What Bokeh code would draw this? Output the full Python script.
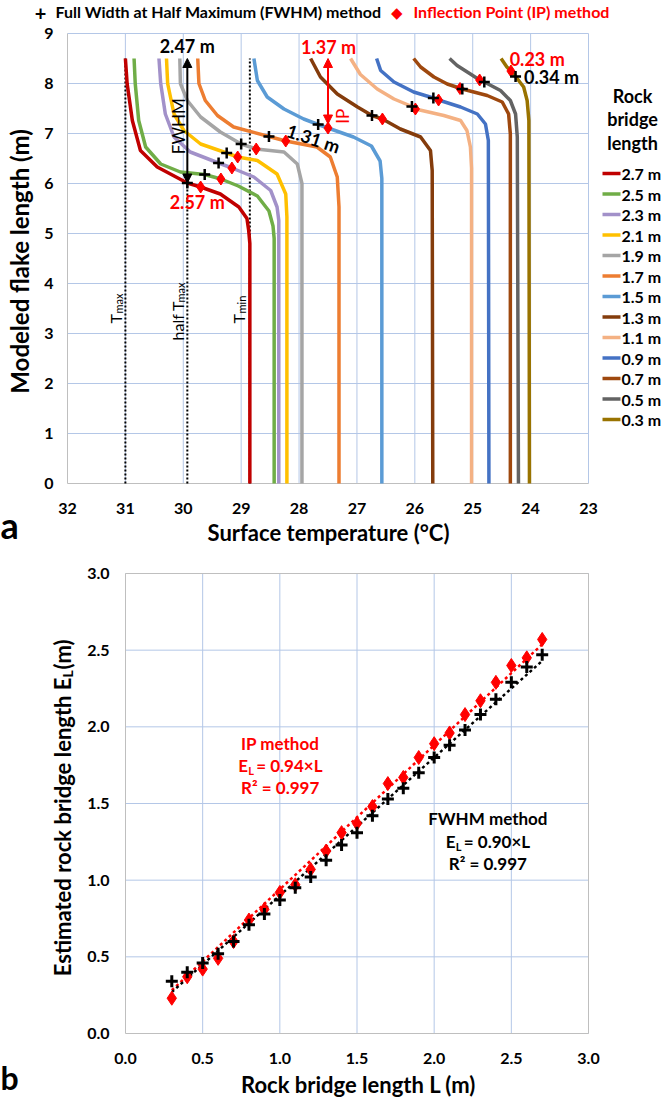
import math
from bokeh.plotting import figure
from bokeh.models import Range1d, Label, Arrow, NormalHead
from bokeh.layouts import column
from bokeh.embed import file_html
from bokeh.resources import INLINE

FONT = "Lato"
RED = "#FF0000"
GRID = "#B4C7E7"
AXIS = "#BFBFBF"

# ---------------- panel a data ----------------
lengths = ["2.7 m", "2.5 m", "2.3 m", "2.1 m", "1.9 m", "1.7 m", "1.5 m",
           "1.3 m", "1.1 m", "0.9 m", "0.7 m", "0.5 m", "0.3 m"]
colors = ["#C00000", "#70AD47", "#A291C9", "#FFC000", "#A5A5A5", "#ED7D31", "#5B9BD5",
          "#843C0C", "#F4B183", "#4472C4", "#9E480E", "#636363", "#997300"]

curve_T = [
    [31.00, 30.97, 30.88, 30.74, 30.45, 29.93, 29.70, 29.36, 29.04, 28.90, 28.87, 28.85, 28.85],
    [30.85, 30.83, 30.77, 30.65, 30.39, 30.05, 29.63, 29.35, 29.05, 28.72, 28.52, 28.45, 28.43, 28.43],
    [30.42, 30.39, 30.31, 30.16, 29.88, 29.39, 29.16, 28.78, 28.49, 28.38, 28.35, 28.35],
    [30.29, 30.27, 30.16, 29.99, 29.70, 29.25, 29.06, 28.72, 28.38, 28.23, 28.21, 28.21],
    [30.06, 30.05, 29.93, 29.70, 29.36, 29.00, 28.74, 28.26, 28.03, 27.95, 27.95, 27.95],
    [29.75, 29.73, 29.62, 29.41, 29.13, 28.52, 28.23, 27.69, 27.46, 27.34, 27.31, 27.31],
    [28.78, 28.72, 28.55, 28.26, 27.92, 27.67, 27.50, 27.06, 26.75, 26.60, 26.57, 26.57],
    [27.80, 27.63, 27.34, 26.99, 26.74, 26.56, 26.25, 25.90, 25.73, 25.70, 25.69],
    [27.11, 26.94, 26.65, 26.36, 26.05, 25.99, 25.50, 25.21, 25.10, 25.04, 25.02, 25.02],
    [26.66, 26.59, 26.36, 26.02, 25.68, 25.59, 25.21, 24.92, 24.78, 24.73, 24.72],
    [26.02, 25.90, 25.67, 25.44, 25.18, 24.75, 24.49, 24.38, 24.35, 24.35],
    [25.40, 25.27, 25.04, 24.88, 24.80, 24.52, 24.35, 24.26, 24.23, 24.21],
    [24.51, 24.41, 24.34, 24.26, 24.12, 24.06, 24.03, 24.02],
]
curve_y = [
    [8.50, 8.00, 7.26, 6.66, 6.33, 6.01, 5.93, 5.79, 5.53, 5.30, 5.06, 4.80, 0.0],
    [8.50, 8.00, 7.26, 6.73, 6.39, 6.23, 6.18, 6.09, 5.95, 5.75, 5.45, 5.15, 4.90, 0.0],
    [8.50, 8.00, 7.39, 6.93, 6.63, 6.41, 6.31, 6.13, 5.86, 5.53, 5.26, 0.0],
    [8.50, 8.00, 7.39, 7.06, 6.79, 6.61, 6.53, 6.46, 6.19, 5.79, 5.33, 0.0],
    [8.50, 8.00, 7.66, 7.33, 7.03, 6.79, 6.69, 6.63, 6.39, 6.00, 5.53, 0.0],
    [8.50, 8.00, 7.66, 7.36, 7.13, 6.94, 6.85, 6.73, 6.53, 6.13, 5.53, 0.0],
    [8.50, 8.06, 7.73, 7.49, 7.29, 7.18, 7.11, 6.93, 6.75, 6.45, 6.10, 0.0],
    [8.50, 8.13, 7.79, 7.53, 7.36, 7.29, 7.09, 6.93, 6.66, 6.26, 0.0],
    [8.50, 8.18, 7.89, 7.69, 7.54, 7.49, 7.36, 7.26, 7.06, 6.73, 6.30, 0.0],
    [8.50, 8.26, 8.03, 7.83, 7.71, 7.67, 7.53, 7.39, 7.19, 6.86, 0.0],
    [8.50, 8.33, 8.13, 7.99, 7.89, 7.76, 7.63, 7.39, 6.99, 0.0],
    [8.50, 8.36, 8.19, 8.07, 8.03, 7.86, 7.66, 7.39, 6.93, 0.0],
    [8.50, 8.33, 8.25, 8.14, 7.93, 7.66, 7.26, 0.0],
]

fwhm_T = [29.93, 29.63, 29.39, 29.25, 29.00, 28.52, 27.67, 26.74, 26.05, 25.68, 25.18, 24.80, 24.26]
fwhm_y = [6.01, 6.18, 6.41, 6.61, 6.79, 6.94, 7.18, 7.36, 7.54, 7.71, 7.89, 8.03, 8.14]
ip_T = [29.70, 29.35, 29.16, 29.06, 28.74, 28.23, 27.50, 26.56, 25.99, 25.59, 25.22, 24.88, 24.34]
ip_y = [5.93, 6.09, 6.31, 6.53, 6.69, 6.85, 7.11, 7.29, 7.49, 7.67, 7.90, 8.07, 8.25]

t_max, t_half, t_min = 31.00, 29.93, 28.85
top_y = 8.5
temp_ticks = [32, 31, 30, 29, 28, 27, 26, 25, 24, 23]
flake_ticks = [0, 1, 2, 3, 4, 5, 6, 7, 8, 9]

# ---------------- panel b data ----------------
L_vals = [0.3, 0.4, 0.5, 0.6, 0.7, 0.8, 0.9, 1.0, 1.1, 1.2, 1.3, 1.4, 1.5,
          1.6, 1.7, 1.8, 1.9, 2.0, 2.1, 2.2, 2.3, 2.4, 2.5, 2.6, 2.7]
E_fwhm = [0.34, 0.40, 0.46, 0.52, 0.60, 0.71, 0.78, 0.87, 0.95, 1.02, 1.13, 1.23, 1.31,
          1.42, 1.53, 1.60, 1.70, 1.80, 1.88, 1.98, 2.08, 2.18, 2.29, 2.39, 2.47]
E_ip = [0.23, 0.37, 0.42, 0.49, 0.60, 0.74, 0.81, 0.92, 0.97, 1.07, 1.19, 1.31, 1.37,
        1.48, 1.63, 1.67, 1.80, 1.89, 1.96, 2.08, 2.17, 2.29, 2.40, 2.45, 2.57]
slope_ip, slope_fwhm = 0.94, 0.90
b_ticks = [0.0, 0.5, 1.0, 1.5, 2.0, 2.5, 3.0]

# ---------------- geometry (page pixels -> data) ----------------
PXT = 521 / 9.0      # px per degC in panel a
PXL = 463 / 3.0      # px per m (x) in panel b
PYE = 460 / 3.0      # px per m (y) in panel b


def A(xp, yp):
    return 32 - (xp - 67) / PXT, (483 - yp) / 50.0


def B(xp, yp):
    return (xp - 125) / PXL, (1033 - yp) / PYE


def label(p, x, y, text, size="16px", color="#000000", style="bold", align="center",
          baseline="middle", angle=0.0, xo=0, yo=0):
    p.add_layout(Label(x=x, y=y, text=text, text_font=FONT, text_font_size=size,
                       text_color=color, text_font_style=style, text_align=align,
                       text_baseline=baseline, angle=angle, x_offset=xo, y_offset=yo))


def la(xp, yp, text, **kw):
    x, y = A(xp, yp)
    label(pa, x, y, text, **kw)


def lb(xp, yp, text, **kw):
    x, y = B(xp, yp)
    label(pb, x, y, text, **kw)


def make_fig(h, xr, yr):
    p = figure(width=663, height=h, output_backend="svg", toolbar_location=None,
               x_range=Range1d(*xr), y_range=Range1d(*yr),
               x_axis_type=None, y_axis_type=None, min_border=0)
    p.outline_line_color = None
    p.grid.visible = False
    p.background_fill_color = "white"
    p.border_fill_color = "white"
    return p


# ======================= PANEL A =======================
pa = make_fig(550, (A(0, 0)[0], A(663, 0)[0]), (A(0, 550)[1], A(0, 0)[1]))
t_lo, t_hi = temp_ticks[-1], temp_ticks[0]
f_lo, f_hi = flake_ticks[0], flake_ticks[-1]

# grid
pa.segment(x0=temp_ticks[1:], x1=temp_ticks[1:], y0=[f_lo] * 9, y1=[f_hi] * 9,
           line_color=GRID, line_width=1)
pa.segment(x0=[t_hi] * 9, x1=[t_lo] * 9, y0=flake_ticks[1:], y1=flake_ticks[1:],
           line_color=GRID, line_width=1)
# axis lines
pa.segment(x0=[t_hi], x1=[t_hi], y0=[f_lo], y1=[f_hi], line_color=AXIS, line_width=1)
pa.segment(x0=[t_hi], x1=[t_lo], y0=[f_lo], y1=[f_lo], line_color=AXIS, line_width=1)
# tick labels
for t in temp_ticks:
    label(pa, t, A(0, 507.5)[1], str(t), size="16px")
for v in flake_ticks:
    label(pa, A(53, 0)[0], v, str(v), size="16px", align="right")

# reference dotted lines
pa.line([t_max, t_max], [0, top_y], line_color="black", line_width=2, line_dash="2 2")
pa.line([t_half, t_half], [0, fwhm_y[0]], line_color="black", line_width=2, line_dash="2 2")
pa.line([t_min, t_min], [0, top_y], line_color="black", line_width=2, line_dash="2 2")

for T, y, c in zip(curve_T, curve_y, colors):
    pa.line(T, y, line_color=c, line_width=3.5)

# arrows
pa.add_layout(Arrow(x_start=fwhm_T[0], y_start=fwhm_y[0], x_end=fwhm_T[0], y_end=top_y,
                    line_color="black", line_width=2,
                    start=NormalHead(size=9, fill_color="black", line_color="black"),
                    end=NormalHead(size=9, fill_color="black", line_color="black")))
pa.add_layout(Arrow(x_start=ip_T[6], y_start=ip_y[6] + 0.08, x_end=ip_T[6], y_end=top_y,
                    line_color=RED, line_width=2,
                    start=NormalHead(size=9, fill_color=RED, line_color=RED),
                    end=NormalHead(size=9, fill_color=RED, line_color=RED)))

pa.scatter(ip_T, ip_y, marker="diamond", size=12, fill_color=RED, line_color=RED)
pa.scatter(fwhm_T, fwhm_y, marker="cross", size=11, line_color="black", line_width=2.5)

# legend (manual)
for i, (name, c) in enumerate(zip(lengths, colors)):
    yp = 173 + i * 20.5
    x0, yy = A(602, yp)
    x1, _ = A(620, yp)
    pa.segment(x0=[x0], x1=[x1], y0=[yy], y1=[yy], line_color=c, line_width=3.5)
    la(621, yp, name, size="16px", align="left")
la(632, 95, "Rock", size="18px")
la(632, 118, "bridge", size="18px")
la(632, 142, "length", size="18px")

# annotations
la(186.7, 45, "2.47 m", size="18px")
la(328, 46.7, "1.37 m", size="18px", color=RED)
la(196.7, 201.7, "2.57 m", size="18px", color=RED)
la(313, 138, "1.31 m", size="18px", angle=-0.32)
la(536.7, 58.3, "0.23 m", size="18px", color=RED)
la(551, 76.7, "0.34 m", size="18px")
la(178, 125.7, "FWHM", size="17px", style="normal", angle=math.pi / 2)
la(341.7, 115.7, "IP", size="17px", style="normal", color=RED, angle=math.pi / 2)

# T labels with subscripts
la(115, 323, "T", size="16px", style="normal", align="left", angle=math.pi / 2)
la(115, 323, "max", size="11px", style="normal", align="left", angle=math.pi / 2, xo=3, yo=10)
la(176.7, 340, "half T", size="16px", style="normal", align="left", angle=math.pi / 2)
la(176.7, 340, "max", size="11px", style="normal", align="left", angle=math.pi / 2, xo=3, yo=38)
la(238, 323, "T", size="16px", style="normal", align="left", angle=math.pi / 2)
la(238, 323, "min", size="11px", style="normal", align="left", angle=math.pi / 2, xo=3, yo=10)

# header legend
la(40, 13, "+", size="20px")
la(55, 11, "Full Width at Half Maximum (FWHM) method", size="16px", align="left")
la(396, 11, "\u25C6", size="15px", color=RED, style="normal")
la(413, 11, "Inflection Point (IP) method", size="16px", color=RED, align="left")

# axis titles
la(19, 258, "Modeled  flake length (m)", size="24px", angle=math.pi / 2)
la(328, 532, "Surface temperature (\u00B0C)", size="22px")
la(0, 524, "a", size="36px", align="left")

# ======================= PANEL B =======================
pb = make_fig(550, (B(0, 0)[0], B(663, 0)[0]), (B(0, 1100)[1], B(0, 550)[1]))
b_lo, b_hi = b_ticks[0], b_ticks[-1]
pb.segment(x0=b_ticks[1:], x1=b_ticks[1:], y0=[b_lo] * 6, y1=[b_hi] * 6, line_color=GRID, line_width=1)
pb.segment(x0=[b_lo] * 6, x1=[b_hi] * 6, y0=b_ticks[1:], y1=b_ticks[1:], line_color=GRID, line_width=1)
pb.segment(x0=[b_lo], x1=[b_lo], y0=[b_lo], y1=[b_hi], line_color=AXIS, line_width=1)
pb.segment(x0=[b_lo], x1=[b_hi], y0=[b_lo], y1=[b_lo], line_color=AXIS, line_width=1)
pb.segment(x0=[b_hi], x1=[b_hi], y0=[b_lo], y1=[b_hi], line_color=AXIS, line_width=1)
pb.segment(x0=[b_lo], x1=[b_hi], y0=[b_hi], y1=[b_hi], line_color=AXIS, line_width=1)
for v in b_ticks:
    label(pb, v, B(0, 1057.5)[1], "%.1f" % v, size="16px")
    label(pb, B(109, 0)[0], v, "%.1f" % v, size="16px", align="right")

pb.line([L_vals[0], L_vals[-1]], [slope_ip * L_vals[0], slope_ip * L_vals[-1]],
        line_color=RED, line_width=2.5, line_dash="3 3")
pb.line([L_vals[0], L_vals[-1]], [slope_fwhm * L_vals[0], slope_fwhm * L_vals[-1]],
        line_color="black", line_width=2.5, line_dash="3 3")
pb.scatter(L_vals, E_ip, marker="diamond", size=14, fill_color=RED, line_color=RED)
pb.scatter(L_vals, E_fwhm, marker="cross", size=12, line_color="black", line_width=3)

# equations
lb(279.7, 742.7, "IP method", size="17px", color=RED)
lb(279.7, 765, "E", size="17px", color=RED, align="left", xo=-42)
lb(279.7, 765, "L", size="11px", color=RED, align="left", xo=-32, yo=-5)
lb(279.7, 765, " = 0.94\u00D7L", size="17px", color=RED, align="left", xo=-24)
lb(279.7, 786.7, "R\u00B2 = 0.997", size="17px", color=RED)
lb(487.3, 818.3, "FWHM method", size="17px")
lb(487.3, 840.7, "E", size="17px", align="left", xo=-42)
lb(487.3, 840.7, "L", size="11px", align="left", xo=-32, yo=-5)
lb(487.3, 840.7, " = 0.90\u00D7L", size="17px", align="left", xo=-24)
lb(487.3, 862.7, "R\u00B2 = 0.997", size="17px")

# axis titles
lb(62, 677, "Estimated rock bridge length E", size="22px", align="right", angle=math.pi / 2)
lb(62, 677, "L", size="14px", align="left", angle=math.pi / 2, xo=5)
lb(62, 677, " (m)", size="22px", align="left", angle=math.pi / 2, yo=8)
lb(358, 1084, "Rock bridge length L (m)", size="22px")
lb(0, 1077, "b", size="32px", align="left")

layout = column(pa, pb)
open("out.html", "w").write(file_html(layout, INLINE))
